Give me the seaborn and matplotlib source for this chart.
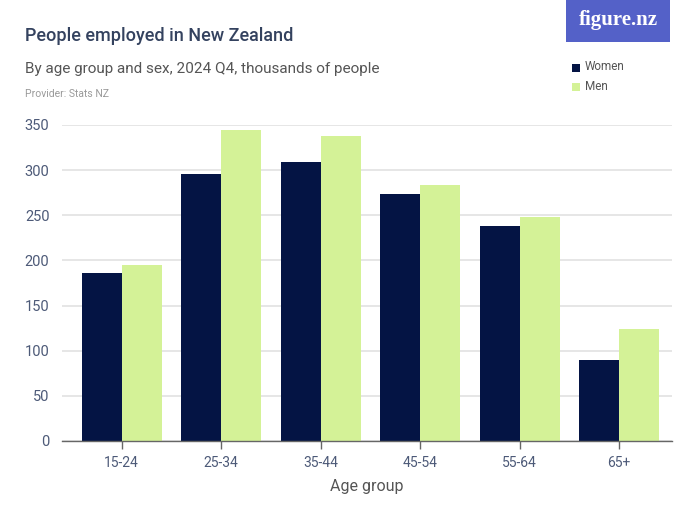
import matplotlib
matplotlib.use("Agg")
import matplotlib.pyplot as plt
import seaborn as sns
import pandas as pd
from matplotlib.patches import Rectangle

age_groups = ["15-24", "25-34", "35-44", "45-54", "55-64", "65+"]
women = [186, 296, 309, 274, 238, 90]
men = [195, 344, 338, 283, 248, 124]
sexes = ["Women", "Men"]
y_ticks = [0, 50, 100, 150, 200, 250, 300, 350]

df = pd.DataFrame({
    "Age group": age_groups * 2,
    "Sex": ["Women"] * len(age_groups) + ["Men"] * len(age_groups),
    "Value": women + men,
})

sns.set_style("white")
plt.rcParams["font.family"] = ["Roboto", "DejaVu Sans"]

fig = plt.figure(figsize=(7, 5.25), dpi=100)
ax = fig.add_axes([62 / 700, 84 / 525, 610 / 700, 316 / 525])

palette = {"Women": "#041444", "Men": "#d4f297"}
sns.barplot(data=df, x="Age group", y="Value", hue="Sex", hue_order=sexes,
            palette=palette, width=0.8, ax=ax, legend=False, saturation=1,
            linewidth=0)

ax.set_ylim(0, 350)
ax.set_xlim(-0.6, 5.53)
ax.set_yticks(y_ticks)
ax.yaxis.grid(True, color="#e2e2e2", linewidth=1.2)
ax.set_axisbelow(True)
for s in ["top", "right", "left"]:
    ax.spines[s].set_visible(False)
ax.spines["bottom"].set_color("#666666")
ax.spines["bottom"].set_linewidth(1)
ax.tick_params(axis="y", length=0, pad=9, labelsize=10.5, labelcolor="#4d5a78")
ax.tick_params(axis="x", length=6, width=1, color="#666666", pad=5,
               labelsize=10, labelcolor="#4d5a78", bottom=True)
ax.set_ylabel("")
ax.set_xlabel("Age group", fontsize=11.5, color="#555555", labelpad=6)

fig.text(25 / 700, 1 - 36 / 525, "People employed in New Zealand",
         fontsize=13, color="#34425f", va="center", ha="left", fontweight="medium")
fig.text(25 / 700, 1 - 69 / 525, "By age group and sex, 2024 Q4, thousands of people",
         fontsize=11, color="#555555", va="center", ha="left")
fig.text(25 / 700, 1 - 94 / 525, "Provider: Stats NZ",
         fontsize=7.5, color="#9a9a9a", va="center", ha="left")

# logo
fig.patches.append(Rectangle((566 / 700, 1 - 42 / 525), 104 / 700, 42 / 525,
                             transform=fig.transFigure, facecolor="#5461c8",
                             edgecolor="none"))
fig.text(618 / 700, 1 - 20 / 525, "figure.nz", fontsize=15, color="white",
         ha="center", va="center", fontweight="bold", family="Liberation Serif")

# legend
for i, s in enumerate(sexes):
    yc = 68 + i * 19
    fig.patches.append(Rectangle((572 / 700, 1 - (yc + 4) / 525), 8 / 700, 8 / 525,
                                 transform=fig.transFigure, facecolor=palette[s],
                                 edgecolor="none"))
    fig.text(585 / 700, 1 - (yc - 1) / 525, s, fontsize=8.5, color="#555555",
             ha="left", va="center")

fig.savefig("out.png", dpi=100)
